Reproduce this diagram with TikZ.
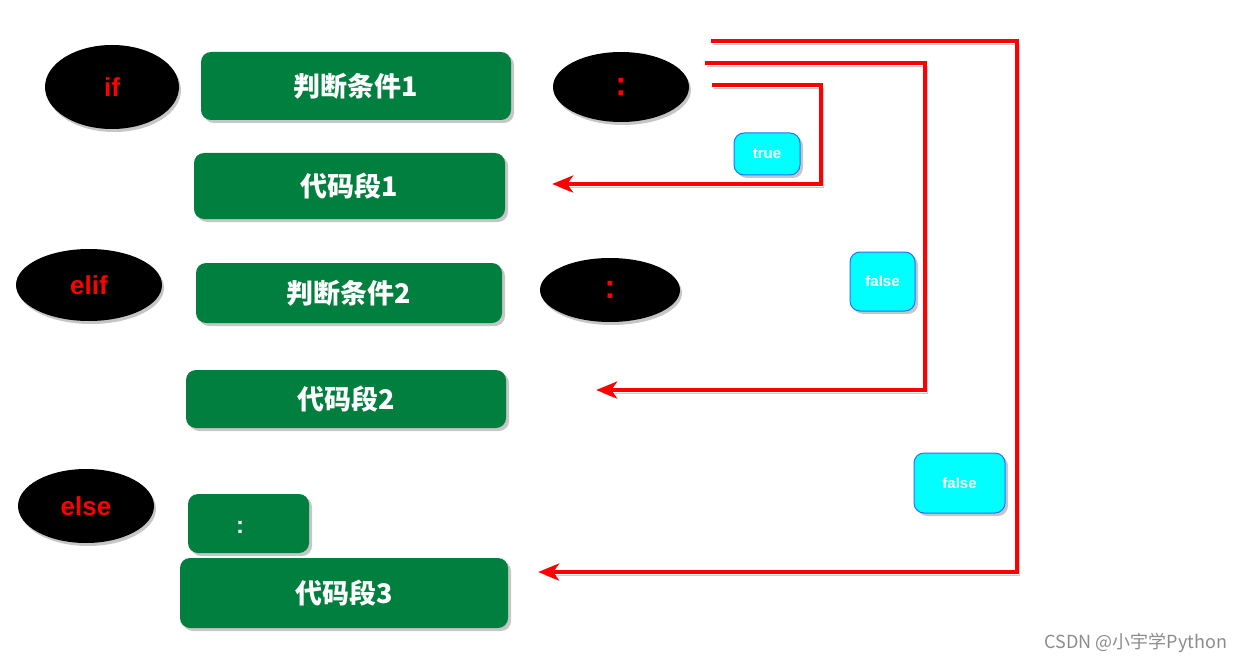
\documentclass[tikz,border=0pt]{standalone}
\usepackage{fontspec}
\setmainfont{Liberation Sans}
\newfontfamily\cjk{Noto Sans CJK SC}
\usepackage{tikz}
\usetikzlibrary{shapes.geometric}
\usetikzlibrary{arrows.meta}
\usetikzlibrary{shadows}

\definecolor{blkgreen}{RGB}{0,127,62}
\definecolor{tagcyan}{RGB}{0,255,255}
\definecolor{tagblue}{RGB}{40,110,255}
\definecolor{mark}{RGB}{140,140,140}

\tikzset{
  kw/.style={ellipse,fill=black,text=red,inner sep=0pt,
    font=\fontsize{26}{28}\selectfont\bfseries,
    drop shadow={shadow xshift=2pt,shadow yshift=-3pt,opacity=.45}},
  blk/.style={rectangle,rounded corners=10pt,fill=blkgreen,text=white,inner sep=0pt,
    font=\cjk\fontsize{27}{29}\selectfont\bfseries,
    drop shadow={shadow xshift=3pt,shadow yshift=-3pt,opacity=.45}},
  tag/.style={rectangle,rounded corners=10pt,fill=tagcyan,draw=tagblue,line width=1pt,
    text=white,inner sep=0pt,font=\fontsize{15}{17}\selectfont\bfseries,
    drop shadow={shadow xshift=3pt,shadow yshift=-3pt,opacity=.45}},
  flow/.style={draw=red,line width=3.5pt,
    -{Stealth[length=21pt,width=17pt,inset=6pt]},
    preaction={draw=black,opacity=.2,transform canvas={xshift=2pt,yshift=-3pt}}},
  colon/.style={font=\fontsize{34}{36}\selectfont\bfseries},
}

\begin{document}
\begin{tikzpicture}[x=1pt,y=-1pt]
\useasboundingbox (0,0) rectangle (1246,663);
% if row
\draw (112,87) node (kwif) [kw,minimum width=134pt,minimum height=84pt] {if};
\draw (356,86) node (cond1) [blk,minimum width=310pt,minimum height=68pt] {判断条件1};
\draw (621,87) node (col1) [kw,colon,minimum width=136pt,minimum height=70pt] {:};
\draw (349.5,186) node (code1) [blk,minimum width=311pt,minimum height=66pt] {代码段1};
% elif row
\draw (89,285) node (kwelif) [kw,minimum width=146pt,minimum height=72pt] {elif};
\draw (349,293) node (cond2) [blk,minimum width=306pt,minimum height=60pt] {判断条件2};
\draw (610,290) node (col2) [kw,colon,minimum width=140pt,minimum height=64pt] {:};
\draw (346,399) node (code2) [blk,minimum width=320pt,minimum height=58pt] {代码段2};
% else row
\draw (86,506) node (kwelse) [kw,minimum width=136pt,minimum height=74pt] {else};
\draw (248.5,523.5) node (col3) [blk,minimum width=121pt,minimum height=59pt,font=\fontsize{24}{26}\selectfont\bfseries] {\raisebox{-10pt}[0pt][0pt]{:}\kern17pt};
\draw (344,593) node (code3) [blk,minimum width=328pt,minimum height=70pt] {代码段3};
% labels
\draw (767,154) node (true) [tag,minimum width=66pt,minimum height=42pt] {true};
\draw (882.5,281.5) node (false1) [tag,minimum width=65pt,minimum height=59pt] {false};
\draw (959.5,483) node (false2) [tag,minimum width=91pt,minimum height=60pt] {false};
% jumps
\coordinate (t1) at (712,85);
\coordinate (t2) at (705,63);
\coordinate (t3) at (711,41);
\draw[flow] (t1) -- ++(109,0) |- ([xshift=47pt,yshift=2pt]code1.east);
\draw[flow] (t2) -- ++(220,0) |- ([xshift=90pt,yshift=9pt]code2.east);
\draw[flow] (t3) -- ++(306,0) |- ([xshift=30pt,yshift=21pt]code3.east);
\draw (1136,643) node (wm) [text=mark,font=\cjk\fontsize{18}{20}\selectfont] {CSDN @小宇学Python};
\end{tikzpicture}
\end{document}
